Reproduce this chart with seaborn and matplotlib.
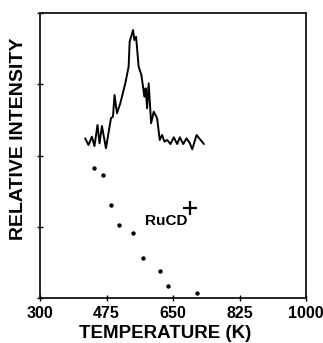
import matplotlib
matplotlib.use("Agg")
import matplotlib.pyplot as plt
import seaborn as sns
import pandas as pd

# TPD trace (K, relative intensity)
trace_temp = [418.9, 427.6, 436.6, 443.4, 451.3, 456.6, 463.0, 473.5, 486.7, 492.0,
              496.2, 502.6, 511.3, 524.5, 533.2, 535.9, 544.9, 548.3, 552.8, 559.6,
              566.8, 574.7, 578.1, 581.8, 586.0, 592.4, 599.3, 608.2, 615.1, 621.4,
              627.5, 634.7, 643.4, 652.1, 661.1, 668.0, 677.0, 685.6, 694.4, 700.7,
              712.0, 722.6, 731.3]
trace_int = [2.241, 2.147, 2.264, 2.133, 2.428, 2.171, 2.414, 2.101, 2.522, 2.545,
             2.849, 2.592, 2.733, 3.013, 3.246, 3.597, 3.761, 3.621, 3.667, 3.246,
             3.130, 2.825, 2.943, 2.662, 3.013, 2.452, 2.615, 2.522, 2.218, 2.288,
             2.194, 2.218, 2.161, 2.255, 2.161, 2.255, 2.161, 2.241, 2.171, 2.087,
             2.288, 2.218, 2.161]

# RuCD dots
dot_temp = [440.8, 464.6, 486.7, 506.8, 544.9, 572.0, 615.1, 636.2, 712.0]
dot_int = [1.82, 1.726, 1.305, 1.025, 0.908, 0.557, 0.383, 0.168, 0.066]

plus_temp = [694.4]
plus_int = [1.267]

x_ticks = [300, 475, 650, 825, 1000]
y_ticks = [0, 1, 2, 3, 4]

sns.set_style("ticks")
plt.rcParams['font.family'] = ['Liberation Sans', 'DejaVu Sans']
plt.rcParams['text.color'] = 'black'
plt.rcParams['axes.labelcolor'] = 'black'

fig = plt.figure(figsize=(3.23, 3.43), dpi=100)
ax = fig.add_axes([40/323, (343-298)/343, (306-40)/323, (298-13)/343])

trace_df = pd.DataFrame({"T": trace_temp, "I": trace_int})
dot_df = pd.DataFrame({"T": dot_temp, "I": dot_int})
plus_df = pd.DataFrame({"T": plus_temp, "I": plus_int})

sns.lineplot(data=trace_df, x="T", y="I", ax=ax, color="black", linewidth=1.4,
             sort=False, estimator=None)
sns.scatterplot(data=dot_df, x="T", y="I", ax=ax, color="black", s=10,
                edgecolor="black", linewidth=0)
sns.scatterplot(data=plus_df, x="T", y="I", ax=ax, color="black", marker="+",
                s=90, linewidth=1.6)
ax.text(632.8, 1.085, "RuCD", ha="center", va="center", fontsize=11,
        fontweight="bold", color="black")

ax.set_xlim(300, 1000)
ax.set_ylim(0, 4)
ax.set_xticks(x_ticks)
ax.set_xticklabels([str(t) for t in x_ticks], fontsize=11.5, fontweight="bold")
ax.set_yticks(y_ticks)
ax.set_yticklabels([])
ax.tick_params(direction="inout", length=5, width=1, colors="black")
for s in ax.spines.values():
    s.set_linewidth(1.2)
    s.set_color("black")

ax.set_xlabel("TEMPERATURE (K)", fontsize=13.5, fontweight="bold", color="black")
ax.xaxis.label.set_va("baseline")
ax.xaxis.set_label_coords((165 - 40) / 266, (298 - 338.5) / 285)
ax.set_ylabel("RELATIVE INTENSITY", fontsize=14, fontweight="bold", color="black")
ax.yaxis.label.set_va("center")
ax.yaxis.set_label_coords((19 - 40) / 266, (298 - 139) / 285)

fig.savefig("out.png", dpi=100)
